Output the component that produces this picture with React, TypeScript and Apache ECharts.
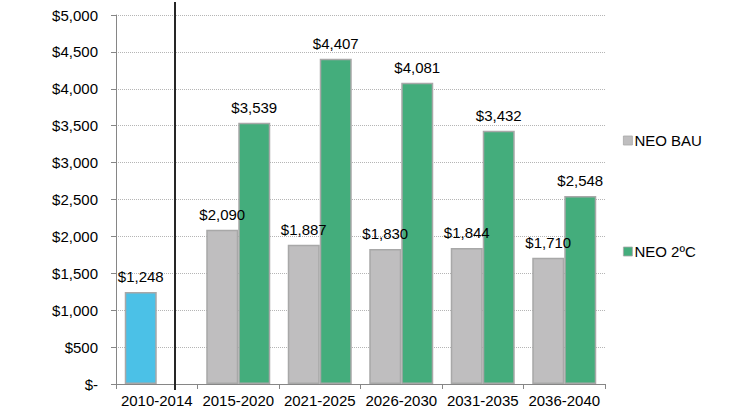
import React, { useEffect, useRef } from "react";
import * as echarts from "echarts";

const categories = ["2010-2014", "2015-2020", "2021-2025", "2026-2030", "2031-2035", "2036-2040"];
const bauValues = [1248, 2090, 1887, 1830, 1844, 1710];
const twoDegValues = [null, 3539, 4407, 4081, 3432, 2548];
const seriesNames = ["NEO BAU", "NEO 2ºC"];

const FONT = "'Liberation Sans', Arial, sans-serif";
const fmt = (v: number) => (v === 0 ? "$-" : "$" + v.toLocaleString("en-US"));

export default function App() {
  const ref = useRef<HTMLDivElement>(null);
  useEffect(() => {
    if (!ref.current) return;
    const chart = echarts.init(ref.current, null, { renderer: "svg" });
    const labelCfg = {
      show: true,
      position: "top",
      distance: 8,
      color: "#000",
      fontSize: 15,
      fontFamily: FONT,
      formatter: (p: any) => fmt(p.value),
    };
    chart.setOption({
      animation: false,
      backgroundColor: "#fff",
      textStyle: { fontFamily: FONT },
      grid: { left: 116, right: 138, top: 15, bottom: 33, containLabel: false },
      legend: {
        orient: "vertical",
        left: 623,
        top: 133,
        padding: 0,
        itemWidth: 9,
        itemHeight: 9,
        itemGap: 96,
        itemStyle: { borderWidth: 0.8 },
        textStyle: { fontSize: 15, color: "#000", fontFamily: FONT, padding: [0, 0, 0, -3] },
        icon: "rect",
        data: seriesNames,
      },
      xAxis: {
        type: "category",
        data: categories,
        axisLine: { lineStyle: { color: "#868686", width: 1 } },
        axisTick: { show: true, length: 5, lineStyle: { color: "#868686" } },
        axisLabel: { color: "#000", fontSize: 15, fontFamily: FONT, margin: 9, interval: 0 },
        splitLine: { show: false },
      },
      yAxis: {
        type: "value",
        min: 0,
        max: 5000,
        interval: 500,
        axisLine: { show: true, lineStyle: { color: "#868686", width: 1 } },
        axisTick: { show: true, length: 5, lineStyle: { color: "#868686" } },
        axisLabel: { color: "#000", fontSize: 15, fontFamily: FONT, margin: 18, formatter: fmt },
        splitLine: { show: true, lineStyle: { color: "#b5b5b5", type: "dotted", width: 1 } },
      },
      series: [
        {
          name: seriesNames[0],
          type: "bar",
          barWidth: 32,
          barGap: "0%",
          itemStyle: { color: "#bfbebf", borderColor: "#a8a8a8", borderWidth: 1.5 },
          label: labelCfg,
          data: bauValues.map((v, i) =>
            i === 0 ? { value: v, itemStyle: { color: "#4bc1e7", borderColor: "#a8a8a8" } } : v
          ),
        },
        {
          name: seriesNames[1],
          type: "bar",
          barWidth: 32,
          barGap: "0%",
          itemStyle: { color: "#44ad7c", borderColor: "#a8a8a8", borderWidth: 1.5 },
          label: labelCfg,
          data: twoDegValues,
        },
      ],
      graphic: [
        {
          type: "line",
          shape: { x1: 175, y1: 2, x2: 175, y2: 390 },
          style: { stroke: "#262626", lineWidth: 2 },
          z: 100,
        },
      ],
    });
    return () => chart.dispose();
  }, []);
  return (
    <div
      ref={ref}
      style={{ position: "fixed", left: 0, top: 0, width: 743, height: 417 }}
    />
  );
}
